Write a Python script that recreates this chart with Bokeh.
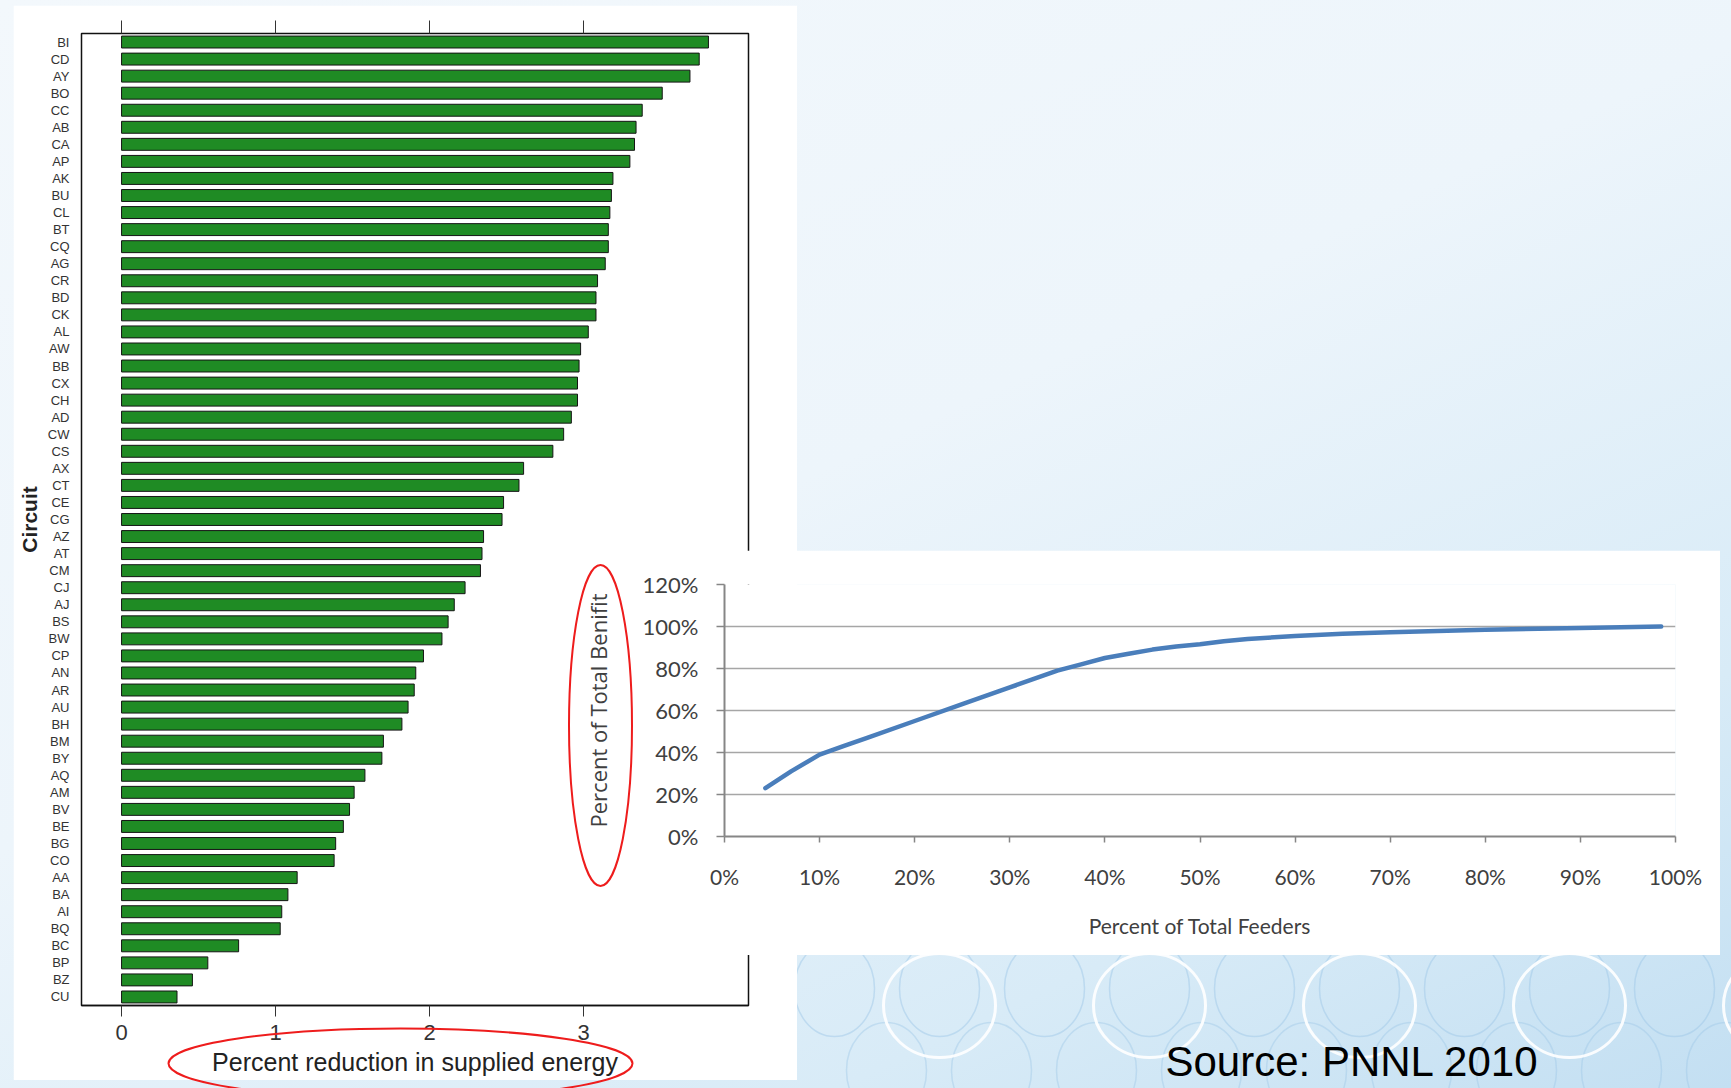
import numpy as np
from bokeh.plotting import figure
from bokeh.layouts import column
from bokeh.models import FactorRange, Range1d, LinearAxis, FixedTicker, PrintfTickFormatter, Label
from bokeh.embed import file_html
from bokeh.resources import INLINE

# ---------------- data ----------------
circuits = ["BI", "CD", "AY", "BO", "CC", "AB", "CA", "AP", "AK", "BU", "CL", "BT", "CQ", "AG",
            "CR", "BD", "CK", "AL", "AW", "BB", "CX", "CH", "AD", "CW", "CS", "AX", "CT", "CE",
            "CG", "AZ", "AT", "CM", "CJ", "AJ", "BS", "BW", "CP", "AN", "AR", "AU", "BH", "BM",
            "BY", "AQ", "AM", "BV", "BE", "BG", "CO", "AA", "BA", "AI", "BQ", "BC", "BP", "BZ", "CU"]
reduction = [3.81, 3.75, 3.69, 3.51, 3.38, 3.34, 3.33, 3.30, 3.19, 3.18, 3.17, 3.16, 3.16, 3.14,
             3.09, 3.08, 3.08, 3.03, 2.98, 2.97, 2.96, 2.96, 2.92, 2.87, 2.80, 2.61, 2.58, 2.48,
             2.47, 2.35, 2.34, 2.33, 2.23, 2.16, 2.12, 2.08, 1.96, 1.91, 1.90, 1.86, 1.82, 1.70,
             1.69, 1.58, 1.51, 1.48, 1.44, 1.39, 1.38, 1.14, 1.08, 1.04, 1.03, 0.76, 0.56, 0.46, 0.36]
bar_ticks = [0, 1, 2, 3]

feeders_pct = [4.3, 7, 10, 12.5, 15, 20, 25, 30, 35, 37.5, 40, 42.5, 45, 47.5, 50, 52.5, 55, 60, 65, 70, 80, 90, 98.5]
benefit_pct = [23, 31, 39, 43, 47, 55, 63, 71, 79, 82, 85, 87, 89, 90.5, 91.5, 93, 94, 95.5, 96.5, 97.3, 98.5, 99.3, 100]
x_pct_ticks = [0, 10, 20, 30, 40, 50, 60, 70, 80, 90, 100]
y_pct_ticks = [0, 20, 40, 60, 80, 100, 120]

PAGE_W, PAGE_H = 1731, 1088
NARROW = "Liberation Sans Narrow, Liberation Sans"

# ---------------- background ----------------
bg = figure(width=PAGE_W, height=PAGE_H, x_range=Range1d(0, PAGE_W), y_range=Range1d(PAGE_H, 0),
            x_axis_location=None, y_axis_location=None, output_backend="svg", toolbar_location=None,
            min_border=0, outline_line_color=None, background_fill_color=None, border_fill_color=None,
            frame_align=False)
bg.grid.visible = False
bg.styles = {"background": "linear-gradient(155deg, #f3f8fc 0%, #edf5fb 45%, #d8ebf7 78%, #c3dff2 100%)"}
ring_x = np.arange(939, 1800, 210)
small_x = np.arange(834, 1800, 105)
bg.ellipse(x=small_x, y=988, width=80, height=96, fill_color=None,
           line_color="#9cc6e6", line_alpha=0.45, line_width=1.5)
bg.ellipse(x=small_x + 52, y=1070, width=80, height=96, fill_color=None,
           line_color="#9cc6e6", line_alpha=0.4, line_width=1.5)
bg.ellipse(x=ring_x, y=1005, width=112, height=104, fill_color=None,
           line_color="white", line_alpha=0.9, line_width=3)
bg.add_layout(Label(x=1165, y=1061, text="Source: PNNL 2010", text_font=NARROW,
                    text_font_size="42px", text_baseline="middle", text_color="black"))

# ---------------- bar chart ----------------
bar = figure(width=784, height=1075, y_range=FactorRange(factors=circuits[::-1]),
             x_range=Range1d(-0.26, 4.07), output_backend="svg", toolbar_location=None,
             min_border_left=68, min_border_right=49, min_border_top=28, min_border_bottom=75,
             background_fill_color="white", border_fill_color="white",
             outline_line_color="#111111", outline_line_width=1.5, frame_align=False)
bar.hbar(y=circuits, left=0, right=reduction, height=0.7,
         fill_color="#1f8b24", line_color="#151515", line_width=1)
bar.grid.visible = False

xa = bar.xaxis[0]
xa.ticker = FixedTicker(ticks=bar_ticks)
xa.major_tick_out = 11
xa.major_tick_in = 0
xa.minor_tick_line_color = None
xa.axis_line_color = "#111111"
xa.axis_line_width = 1.5
xa.major_tick_line_color = "#333333"
xa.major_label_text_font = "Liberation Sans"
xa.major_label_text_font_size = "22px"
xa.major_label_text_color = "#333333"
xa.major_label_standoff = 8
xa.axis_label = "Percent reduction in supplied energy"
xa.axis_label_text_font = "Liberation Sans"
xa.axis_label_text_font_style = "normal"
xa.axis_label_text_font_size = "25px"
xa.axis_label_text_color = "#222222"
xa.axis_label_standoff = 5

top_axis = LinearAxis(ticker=FixedTicker(ticks=bar_ticks), major_tick_out=13, major_tick_in=0,
                      minor_tick_line_color=None, axis_line_color=None,
                      major_tick_line_color="#333333",
                      major_label_overrides={0: "", 1: "", 2: "", 3: ""})
bar.add_layout(top_axis, "above")

ya = bar.yaxis[0]
ya.major_tick_out = 0
ya.major_tick_in = 0
ya.major_tick_line_color = None
ya.minor_tick_line_color = None
ya.axis_line_color = None
ya.major_label_text_font = NARROW
ya.major_label_text_font_size = "13px"
ya.major_label_text_color = "#333333"
ya.major_label_standoff = 12
ya.axis_label = "Circuit"
ya.axis_label_text_font = "Liberation Sans"
ya.axis_label_text_font_style = "bold"
ya.axis_label_text_font_size = "21px"
ya.axis_label_text_color = "#222222"
ya.axis_label_standoff = 4

# ---------------- line chart ----------------
ln = figure(width=1168, height=405, x_range=Range1d(0, 100), y_range=Range1d(0, 120),
            output_backend="svg", toolbar_location=None,
            min_border_left=172, min_border_right=45, min_border_top=34, min_border_bottom=119,
            background_fill_color="white", border_fill_color="white", outline_line_color=None,
            frame_align=False)
ln.line(feeders_pct, benefit_pct, line_color="#4a7ebb", line_width=4.5,
        line_cap="round", line_join="round")
ln.xgrid.visible = False
ln.ygrid.ticker = FixedTicker(ticks=y_pct_ticks)
ln.ygrid.grid_line_color = "#a6a6a6"
ln.ygrid.grid_line_width = 1.5

lx = ln.xaxis[0]
lx.ticker = FixedTicker(ticks=x_pct_ticks)
lx.formatter = PrintfTickFormatter(format="%d%%")
lx.major_tick_out = 6
lx.major_tick_in = 0
lx.minor_tick_line_color = None
lx.axis_line_color = "#868686"
lx.axis_line_width = 2
lx.major_tick_line_color = "#868686"
lx.major_tick_line_width = 1.5
lx.major_label_text_font = "Lato"
lx.major_label_text_font_size = "21px"
lx.major_label_text_color = "#404040"
lx.major_label_standoff = 21
lx.axis_label = "Percent of Total Feeders"
lx.axis_label_text_font = "Lato"
lx.axis_label_text_font_style = "normal"
lx.axis_label_text_font_size = "21px"
lx.axis_label_text_color = "#404040"
lx.axis_label_standoff = 21

ly = ln.yaxis[0]
ly.ticker = FixedTicker(ticks=y_pct_ticks)
ly.formatter = PrintfTickFormatter(format="%d%%")
ly.major_tick_out = 8
ly.major_tick_in = 0
ly.minor_tick_line_color = None
ly.axis_line_color = "#868686"
ly.axis_line_width = 2
ly.major_tick_line_color = "#868686"
ly.major_tick_line_width = 1.5
ly.major_label_text_font = "Lato"
ly.major_label_text_font_size = "22px"
ly.major_label_text_color = "#404040"
ly.major_label_standoff = 18
ly.axis_label = "Percent of Total Benifit"
ly.axis_label_text_font = "Open Sans"
ly.axis_label_text_font_style = "normal"
ly.axis_label_text_font_size = "22px"
ly.axis_label_text_color = "#404040"
ly.axis_label_standoff = 27

# ---------------- overlay (red highlight ellipses) ----------------
ov = figure(width=PAGE_W, height=PAGE_H, x_range=Range1d(0, PAGE_W), y_range=Range1d(PAGE_H, 0),
            x_axis_location=None, y_axis_location=None, output_backend="svg", toolbar_location=None,
            min_border=0, outline_line_color=None, background_fill_color=None, border_fill_color=None,
            frame_align=False)
ov.grid.visible = False
hl_x = [600, 400]
hl_y = [725, 1063]
hl_w = [63, 464]
hl_h = [321, 70]
ov.ellipse(x=hl_x, y=hl_y, width=hl_w, height=hl_h, fill_color=None,
           line_color="#ee1c1c", line_width=2)

# ---------------- stacking (overlapping panels via negative margins) ----------------
bar.margin = (5 - PAGE_H, 0, 0, 13)
ln.margin = (550 - (5 + 1075), 0, 0, 552)
ov.margin = (-955, 0, 0, 0)

layout = column(bg, bar, ln, ov, spacing=0)
open("out.html", "w").write(file_html(layout, INLINE))
